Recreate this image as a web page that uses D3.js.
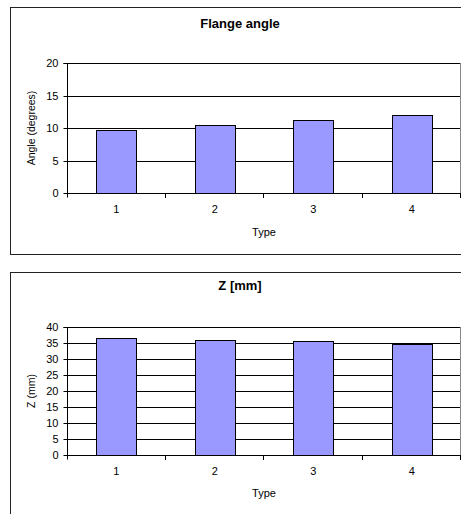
<!DOCTYPE html>
<html><head><meta charset="utf-8">
<script src="https://cdn.jsdelivr.net/npm/d3@7"></script>
<style>body{margin:0;background:#fff}svg{display:block}text{font-family:"Liberation Sans",Arial,sans-serif}</style>
</head><body><div id="c"></div>
<script>
const categories = ["1","2","3","4"];
const flangeAngle = [9.65, 10.45, 11.25, 11.95];
const zValues = [36.7, 35.8, 35.6, 34.8];
const flangeTicks = [0,5,10,15,20];
const zTicks = [0,5,10,15,20,25,30,35,40];

const W = 461, H = 514;
const svg = d3.select("#c").append("svg").attr("width", W).attr("height", H);

function chart(cfg){
  const g = svg.append("g");
  g.append("rect").attr("x", cfg.box[0]+0.5).attr("y", cfg.box[1]+0.5)
    .attr("width", cfg.box[2]).attr("height", cfg.box[3])
    .attr("fill","#fff").attr("stroke","#222").attr("stroke-width",1);
  const x = d3.scaleBand().domain(categories).range([cfg.left, cfg.right]).padding(0);
  const y = d3.scaleLinear().domain([0, cfg.max]).range([cfg.bottom, cfg.top]);
  // gridlines
  g.selectAll(".grid").data(cfg.ticks).join("line")
    .attr("x1", cfg.left).attr("x2", cfg.right)
    .attr("y1", d => Math.round(y(d))+0.5).attr("y2", d => Math.round(y(d))+0.5)
    .attr("stroke","#000").attr("stroke-width",1);
  // right plot border
  g.append("line").attr("x1", cfg.right-0.5).attr("x2", cfg.right-0.5)
    .attr("y1", cfg.top).attr("y2", cfg.bottom).attr("stroke","#888");
  // bars
  const bw = x.bandwidth()*0.41;
  g.selectAll(".bar").data(cfg.values).join("rect")
    .attr("x", (d,i) => Math.round(x(categories[i]) + x.bandwidth()/2 - bw/2)+0.5)
    .attr("y", d => Math.round(y(d))+0.5)
    .attr("width", Math.round(bw))
    .attr("height", d => Math.round(y(0)) - Math.round(y(d)))
    .attr("fill","#9999ff").attr("stroke","#000").attr("stroke-width",1);
  // y axis
  const ya = d3.axisLeft(y).tickValues(cfg.ticks).tickSize(4).tickPadding(5);
  const yg = g.append("g").attr("transform",`translate(${cfg.left+0.5},0.5)`).call(ya);
  yg.select(".domain").attr("stroke","#000").attr("d", `M-4,${Math.round(y(cfg.max))}H0V${Math.round(y(0))+4}`);
  yg.selectAll(".tick line").attr("stroke","#000");
  yg.selectAll(".tick").attr("transform", d => `translate(0,${Math.round(y(d))})`);
  yg.selectAll("text").attr("font-size", 11).attr("fill","#000").attr("font-family","Liberation Sans, Arial, sans-serif");
  // x axis
  const xa = d3.axisBottom(x).tickSize(0).tickPadding(12);
  const xg = g.append("g").attr("transform",`translate(0,${Math.round(y(0))+0.5})`).call(xa);
  xg.select(".domain").attr("stroke","#000").attr("d", `M${cfg.left},0H${cfg.right}`);
  xg.selectAll("text").attr("font-size", 11).attr("fill","#000").attr("font-family","Liberation Sans, Arial, sans-serif");
  // boundary ticks
  const bounds = categories.map(c => x(c)).concat([cfg.right]);
  g.selectAll(".bt").data(bounds.slice(1)).join("line")
    .attr("x1", d => Math.round(d)-0.5).attr("x2", d => Math.round(d)-0.5)
    .attr("y1", Math.round(y(0))).attr("y2", Math.round(y(0))+5)
    .attr("stroke","#000");
  // titles
  g.append("text").attr("x", cfg.titleX).attr("y", cfg.titleY).attr("text-anchor","middle")
    .attr("font-size", 13).attr("font-weight","bold").text(cfg.title);
  g.append("text").attr("x", (cfg.left+cfg.right)/2).attr("y", cfg.xTitleY).attr("text-anchor","middle")
    .attr("font-size", 11).text("Type");
  g.append("text").attr("transform", `translate(${cfg.yTitleX},${(cfg.top+cfg.bottom)/2}) rotate(-90)`)
    .attr("text-anchor","middle").attr("font-size", 10.5).text(cfg.yTitle);
}

chart({box:[10,7,470,247], left:67, right:461, top:63, bottom:193, max:20, ticks:flangeTicks,
  values:flangeAngle, title:"Flange angle", titleX:240, titleY:28, xTitleY:236, yTitleX:35, yTitle:"Angle (degrees)"});
chart({box:[10,272,470,260], left:67, right:461, top:327, bottom:455, max:40, ticks:zTicks,
  values:zValues, title:"Z [mm]", titleX:240, titleY:290, xTitleY:497, yTitleX:35, yTitle:"Z (mm)"});
</script></body></html>
